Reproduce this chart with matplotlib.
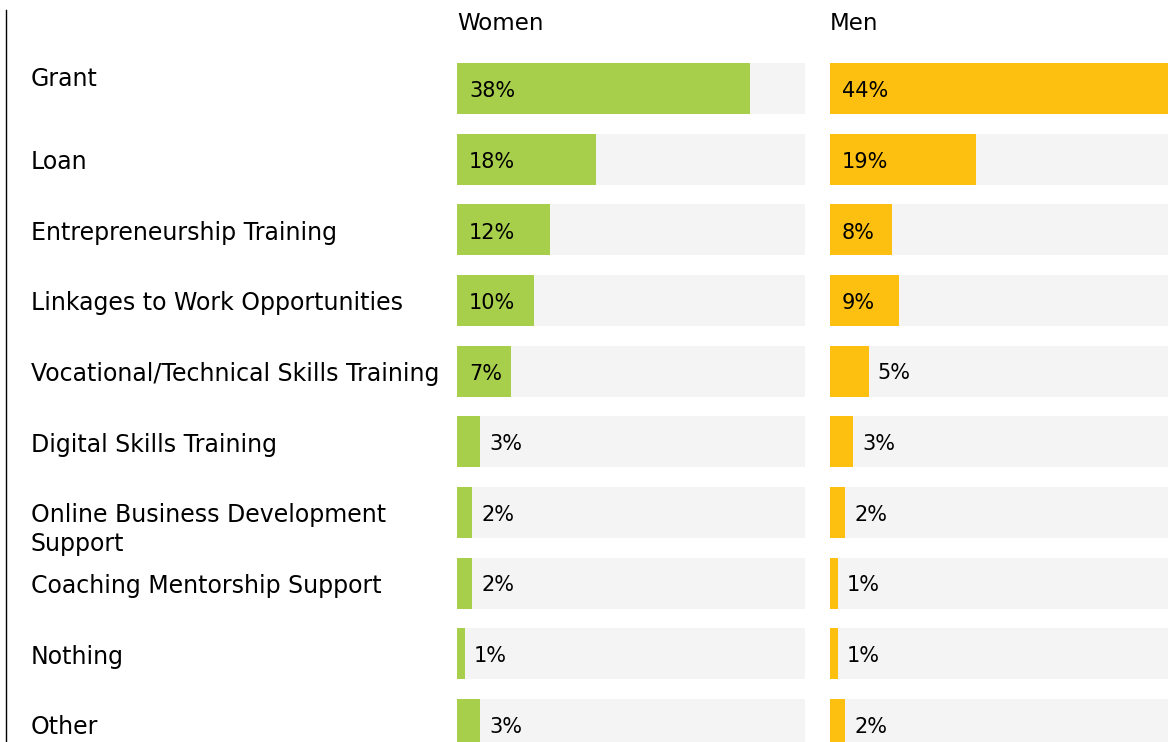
import matplotlib.pyplot as plt

categories = ["Grant", "Loan", "Entrepreneurship Training", "Linkages to Work Opportunities",
              "Vocational/Technical Skills Training", "Digital Skills Training",
              "Online Business Development\nSupport", "Coaching Mentorship Support",
              "Nothing", "Other"]
women = [38, 18, 12, 10, 7, 3, 2, 2, 1, 3]
men = [44, 19, 8, 9, 5, 3, 2, 1, 1, 2]

green = "#A8CF4C"
yellow = "#FDC010"
grey = "#F4F4F4"

W, H = 1168, 742
fig = plt.figure(figsize=(W / 100, H / 100), dpi=100)
plt.rcParams['font.family'] = ['DejaVu Sans']

pitch = 70.67
first = 88.5
ylo = (H - first) / pitch
yhi = -first / pitch
pxper = 7.71


def panel(left, width, values, color, title, inside_min):
    ax = fig.add_axes([left / W, 0, width / W, 1])
    xmax = width / pxper
    rows = range(len(values))
    ax.barh(rows, [xmax] * len(values), height=0.722, color=grey)
    ax.barh(rows, values, height=0.722, color=color)
    for i, v in enumerate(values):
        if v >= inside_min:
            ax.text(12 / pxper, i + 0.04, f"{v}%", va="center", ha="left", fontsize=15)
        else:
            ax.text(v + 9 / pxper, i + 0.03, f"{v}%", va="center", ha="left", fontsize=15)
    ax.set_xlim(0, xmax)
    ax.set_ylim(ylo, yhi)
    ax.axis("off")
    ax.text(0, yhi + 24 / pitch, title, va="center", ha="left", fontsize=16.5)
    return ax


panel(457, 348, women, green, "Women", 7)
panel(830, 338, men, yellow, "Men", 8)

lab = fig.add_axes([0, 0, 450 / W, 1])
lab.set_xlim(0, 450)
lab.set_ylim(ylo, yhi)
lab.axis("off")
lab.plot([6, 6], [yhi + 10 / pitch, ylo], color="black", lw=1)
for i, c in enumerate(categories):
    if "\n" in c:
        lab.text(31, i + 0.24, c, va="center", ha="left", fontsize=17, linespacing=1.3)
    elif i == 0:
        lab.text(31, i - 0.13, c, va="center", ha="left", fontsize=17)
    else:
        lab.text(31, i + 0.04, c, va="center", ha="left", fontsize=17)

fig.savefig("out.png", dpi=100)
